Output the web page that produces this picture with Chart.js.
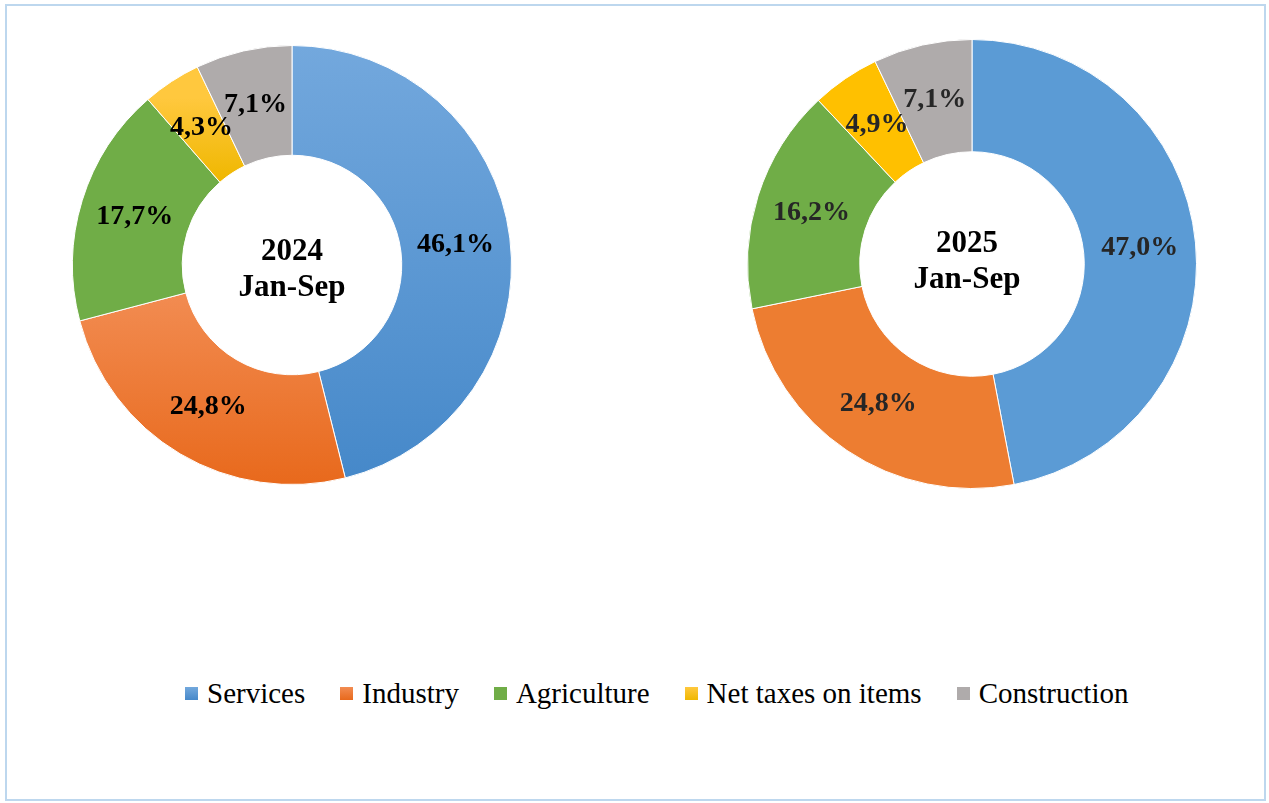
<!DOCTYPE html>
<html>
<head>
<meta charset="utf-8">
<script src="https://cdn.jsdelivr.net/npm/chart.js@4.4.0/dist/chart.umd.min.js"></script>
<style>
  html, body { margin: 0; padding: 0; background: #fff; }
  body { width: 1269px; height: 803px; position: relative; overflow: hidden; font-family: "Liberation Serif", "Times New Roman", serif; }
  .frame { position: absolute; left: 5px; top: 4px; width: 1261px; height: 797px; border: 2px solid #bdd7ee; box-sizing: border-box; }
  .pie { position: absolute; }
  #legend { position: absolute; left: 185px; top: 677px; display: flex; align-items: center; font-size: 29px; color: #000; white-space: nowrap; }
  #legend .item { display: flex; align-items: center; margin-right: 35px; }
  #legend .box { width: 13px; height: 13px; margin-right: 9px; }
</style>
</head>
<body>
<div class="frame"></div>
<div class="pie" style="left:72px; top:45px; width:440px; height:440px;"><canvas id="pie2024"></canvas></div>
<div class="pie" style="left:747px; top:39px; width:450px; height:450px;"><canvas id="pie2025"></canvas></div>
<div id="legend"></div>

<script>
// ================= DATA =================
const categories = ["Services", "Industry", "Agriculture", "Net taxes on items", "Construction"];
const share2024 = [46.1, 24.8, 17.7, 4.3, 7.1];
const share2025 = [47.0, 24.8, 16.2, 4.9, 7.1];
const centerLabels2024 = ["2024", "Jan-Sep"];
const centerLabels2025 = ["2025", "Jan-Sep"];

// flat colours (2025) and gradient colours (2024)
const flatColors = ["#5b9bd5", "#ed7d31", "#70ad47", "#ffc000", "#afabab"];
const gradTop    = ["#73a8dd", "#f28c52", "#70ad47", "#ffc83e", "#afabab"];
const gradBottom = ["#4588c9", "#e8691c", "#70ad47", "#efb700", "#afabab"];
const gradStops  = [[0, 1], [0.56, 1], [0, 1], [0.12, 0.31], [0, 1]];

function fmt(v) {
  return v.toFixed(1).replace(".", ",") + "%";
}

// gradient fill for the 2024 ring
function gradientFill(context) {
  const chart = context.chart;
  const area = chart.chartArea;
  const i = context.dataIndex;
  if (!area) return gradTop[i];
  const g = chart.ctx.createLinearGradient(0, area.top, 0, area.bottom);
  g.addColorStop(gradStops[i][0], gradTop[i]);
  g.addColorStop(gradStops[i][1], gradBottom[i]);
  return g;
}

// ================= PLUGINS =================
const sliceLabels = {
  id: "sliceLabels",
  afterDatasetsDraw(chart, args, opts) {
    const ctx = chart.ctx;
    const meta = chart.getDatasetMeta(0);
    const values = chart.data.datasets[0].data;
    ctx.save();
    ctx.font = "bold 28px 'Liberation Serif', 'Times New Roman', serif";
    ctx.fillStyle = opts.color;
    ctx.textAlign = "center";
    ctx.textBaseline = "middle";
    meta.data.forEach((arc, i) => {
      const p = arc.getCenterPoint(true);
      ctx.fillText(fmt(values[i]), p.x, p.y);
    });
    ctx.restore();
  }
};

const centerText = {
  id: "centerText",
  afterDraw(chart, args, opts) {
    const arc = chart.getDatasetMeta(0).data[0];
    if (!arc) return;
    const ctx = chart.ctx;
    ctx.save();
    ctx.font = "bold 31px 'Liberation Serif', 'Times New Roman', serif";
    ctx.fillStyle = "#000";
    ctx.textAlign = "center";
    ctx.textBaseline = "alphabetic";
    ctx.fillText(opts.lines[0], arc.x + opts.dx, arc.y + opts.dy - 6);
    ctx.fillText(opts.lines[1], arc.x + opts.dx, arc.y + opts.dy + 30);
    ctx.restore();
  }
};

// ================= DOUGHNUTS =================
function makeDoughnut(id, values, fill, labelColor, lines, dx, dy) {
  return new Chart(document.getElementById(id), {
    type: "doughnut",
    data: {
      labels: categories,
      datasets: [
        {
          data: values,
          backgroundColor: fill,
          borderColor: "#ffffff",
          borderWidth: 1
        }
      ]
    },
    options: {
      responsive: true,
      maintainAspectRatio: false,
      animation: false,
      cutout: "50%",
      layout: { padding: 0 },
      plugins: {
        legend: { display: false },
        tooltip: { enabled: false },
        sliceLabels: { color: labelColor },
        centerText: { lines: lines, dx: dx, dy: dy }
      }
    },
    plugins: [sliceLabels, centerText]
  });
}

// ================= LEGEND =================
function buildLegend() {
  const box = document.getElementById("legend");
  categories.forEach((name, i) => {
    box.innerHTML += `
      <div class="item">
        <div class="box" style="background: linear-gradient(${gradTop[i]}, ${gradBottom[i]});"></div>
        <span>${name}</span>
      </div>
    `;
  });
}

window.onload = () => {
  makeDoughnut("pie2024", share2024, gradientFill, "#000000", centerLabels2024, 0, 1);
  makeDoughnut("pie2025", share2025, flatColors, "#262626", centerLabels2025, -5, -6);
  buildLegend();
};
</script>
</body>
</html>
